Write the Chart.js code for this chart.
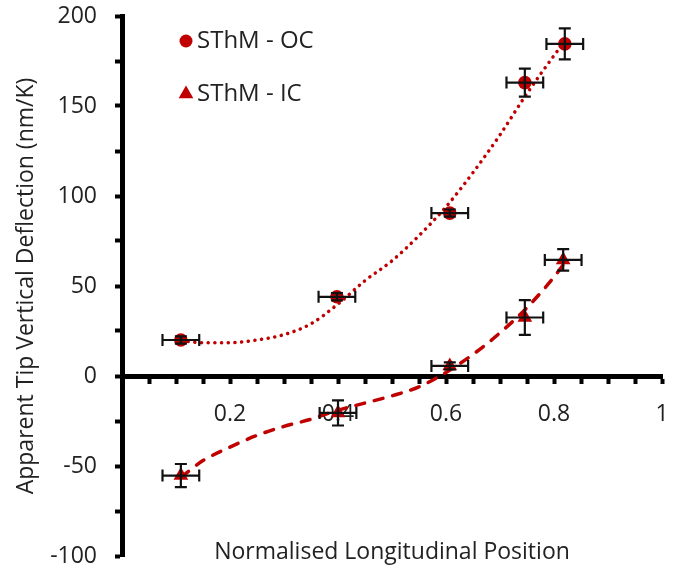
<!DOCTYPE html>
<html>
<head>
<meta charset="utf-8">
<script src="https://cdn.jsdelivr.net/npm/chart.js@4/dist/chart.umd.min.js"></script>
<style>
  html, body { margin: 0; padding: 0; background: #ffffff; }
  #wrap { width: 676px; height: 572px; }
</style>
</head>
<body>
<div id="wrap"><canvas id="c" width="676" height="572"></canvas></div>
<script>
// ---- data ----
const ocLabel = 'SThM - OC';
const icLabel = 'SThM - IC';

const ocPosition   = [0.109, 0.398, 0.607, 0.746, 0.820];
const ocDeflection = [20, 44, 90.5, 163, 184.5];
const ocPosErr     = [0.034, 0.034, 0.034, 0.034, 0.034];
const ocDefErr     = [2, 2, 2, 7.8, 8.6];

const icPosition   = [0.109, 0.400, 0.607, 0.746, 0.817];
const icDeflection = [-55.3, -20.5, 5.6, 32.5, 64.5];
const icPosErr     = [0.034, 0.034, 0.034, 0.034, 0.034];
const icDefErr     = [6.4, 7, 2, 9.7, 6];

// trend lines
const ocTrendX = [0.11, 0.15, 0.20, 0.25, 0.30, 0.35, 0.40, 0.45, 0.50, 0.55, 0.60, 0.65, 0.70, 0.75, 0.80, 0.82];
const ocTrendY = [19.5, 18.5, 18.5, 20, 23, 29, 40, 53, 64, 78, 94, 113, 134, 157, 178, 186];
const icTrendX = [0.11, 0.15, 0.20, 0.25, 0.30, 0.35, 0.40, 0.45, 0.50, 0.55, 0.60, 0.65, 0.70, 0.75, 0.80, 0.82];
const icTrendY = [-56, -47, -39.5, -33, -28, -24, -19, -15, -11, -6, 2, 12, 24, 38, 55, 63];

const xTitle = 'Normalised Longitudinal Position';
const yTitle = 'Apparent Tip Vertical Deflection (nm/K)';

// ---- styling ----
const RED = '#C00000';
const TXT = '#222222';
const FONT = "'Open Sans', 'Noto Sans', sans-serif";

const pts = (xs, ys) => xs.map((x, i) => ({x: x, y: ys[i]}));

const errorBars = {
  id: 'errorBars',
  afterDatasetsDraw(chart) {
    const ctx = chart.ctx, xs = chart.scales.x, ys = chart.scales.y;
    ctx.save();
    ctx.strokeStyle = '#111111';
    ctx.lineWidth = 2.2;
    const cap = 6;
    chart.data.datasets.forEach(ds => {
      if (!ds.errX) return;
      ds.data.forEach((p, i) => {
        const cx = xs.getPixelForValue(p.x), cy = ys.getPixelForValue(p.y);
        const x1 = xs.getPixelForValue(p.x - ds.errX[i]), x2 = xs.getPixelForValue(p.x + ds.errX[i]);
        const y1 = ys.getPixelForValue(p.y + ds.errY[i]), y2 = ys.getPixelForValue(p.y - ds.errY[i]);
        ctx.beginPath();
        ctx.moveTo(x1, cy); ctx.lineTo(x2, cy);
        ctx.moveTo(x1, cy - cap); ctx.lineTo(x1, cy + cap);
        ctx.moveTo(x2, cy - cap); ctx.lineTo(x2, cy + cap);
        ctx.moveTo(cx, y1); ctx.lineTo(cx, y2);
        ctx.moveTo(cx - cap, y1); ctx.lineTo(cx + cap, y1);
        ctx.moveTo(cx - cap, y2); ctx.lineTo(cx + cap, y2);
        ctx.stroke();
      });
    });
    ctx.restore();
  }
};

const extras = {
  id: 'extras',
  afterDraw(chart) {
    const ctx = chart.ctx, area = chart.chartArea;
    ctx.save();
    // x axis title at the bottom
    ctx.fillStyle = TXT;
    ctx.font = "23px " + FONT;
    ctx.textAlign = 'center';
    ctx.textBaseline = 'middle';
    ctx.fillText(xTitle, (area.left + area.right) / 2, 552);
    // legend
    const items = chart.data.datasets.filter(d => d.showInLegend);
    const rows = [41, 94];
    items.forEach((d, i) => {
      const y = rows[i], mx = 186;
      ctx.fillStyle = d.backgroundColor;
      ctx.beginPath();
      if (d.pointStyle === 'triangle') {
        const r = 8.5;
        ctx.moveTo(mx, y - r);
        ctx.lineTo(mx + r * 0.866, y + r * 0.5);
        ctx.lineTo(mx - r * 0.866, y + r * 0.5);
        ctx.closePath();
      } else {
        ctx.arc(mx, y, 6.5, 0, Math.PI * 2);
      }
      ctx.fill();
      ctx.fillStyle = TXT;
      ctx.font = "24px " + FONT;
      ctx.textAlign = 'left';
      ctx.textBaseline = 'middle';
      ctx.fillText(d.label, 197, y);
    });
    ctx.restore();
  }
};

new Chart(document.getElementById('c'), {
  type: 'scatter',
  data: {
    datasets: [
      {
        label: ocLabel, showInLegend: true,
        data: pts(ocPosition, ocDeflection), errX: ocPosErr, errY: ocDefErr,
        pointStyle: 'circle', pointRadius: 6.8, backgroundColor: RED, borderColor: RED, borderWidth: 0,
        order: 2
      },
      {
        label: icLabel, showInLegend: true,
        data: pts(icPosition, icDeflection), errX: icPosErr, errY: icDefErr,
        pointStyle: 'triangle', pointRadius: 8.5, backgroundColor: RED, borderColor: RED, borderWidth: 0,
        order: 2
      },
      {
        type: 'line', label: 'OC trend', data: pts(ocTrendX, ocTrendY),
        borderColor: RED, borderWidth: 3.5, borderDash: [0.1, 6.6], borderCapStyle: 'round',
        pointRadius: 0, cubicInterpolationMode: 'monotone', fill: false, order: 1
      },
      {
        type: 'line', label: 'IC trend', data: pts(icTrendX, icTrendY),
        borderColor: RED, borderWidth: 3.5, borderDash: [9, 10], borderCapStyle: 'round',
        pointRadius: 0, cubicInterpolationMode: 'monotone', fill: false, order: 1
      }
    ]
  },
  options: {
    responsive: false,
    animation: false,
    devicePixelRatio: 1,
    layout: { padding: { top: 16, bottom: 16, right: 14, left: 0 } },
    plugins: { legend: { display: false }, tooltip: { enabled: false } },
    scales: {
      x: {
        type: 'linear', min: 0, max: 1,
        position: { y: 0 },
        border: { display: true, color: '#000', width: 5 },
        grid: { drawOnChartArea: false, drawTicks: true, tickLength: 5, tickWidth: 4, tickColor: '#000' },
        ticks: {
          stepSize: 0.05, padding: 20, color: TXT, font: { family: FONT, size: 23 }, maxRotation: 0, autoSkip: false,
          callback: v => { const k = Math.round(v * 100); return (k !== 0 && k % 20 === 0) ? String(k / 100) : ''; }
        },
        afterFit: s => { s.paddingLeft = 0; s.paddingRight = 0; }
      },
      y: {
        type: 'linear', min: -100, max: 200,
        border: { display: true, color: '#000', width: 5 },
        grid: { drawOnChartArea: false, drawTicks: true, tickLength: 7, tickWidth: 4, tickColor: '#000' },
        ticks: {
          stepSize: 25, padding: 18, color: TXT, font: { family: FONT, size: 23 }, autoSkip: false,
          callback: v => (Math.round(v) % 50 === 0 ? String(v) : '')
        },
        title: { display: true, text: yTitle, color: TXT, font: { family: FONT, size: 23 }, padding: { top: 13, bottom: 0 } },
        afterFit: s => { s.width = 122; s.paddingTop = 0; s.paddingBottom = 0; }
      }
    }
  },
  plugins: [errorBars, extras]
});
</script>
</body>
</html>
